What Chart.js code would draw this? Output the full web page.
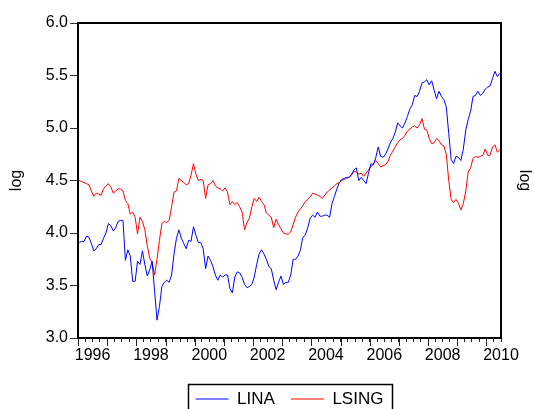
<!DOCTYPE html>
<html>
<head>
<meta charset="utf-8">
<script src="https://cdn.jsdelivr.net/npm/chart.js@4/dist/chart.umd.min.js"></script>
<style>
  html, body { margin: 0; padding: 0; background: #ffffff; }
  canvas { display: block; }
</style>
</head>
<body>
<canvas id="chart" width="534" height="409"></canvas>
<script>
// Monthly observations, 1996M01 - 2010M06
const startYear = 1996;
const monthCount = 174;
const months = [];
for (let k = 0; k < monthCount; k++) {
  months.push(`${startYear + Math.floor(k / 12)}M${String(k % 12 + 1).padStart(2, '0')}`);
}

// LINA (log level)
const lina = [
  3.91, 3.92, 3.92, 3.97, 3.96, 3.90, 3.83, 3.85, 3.89, 3.89, 3.95, 4.00,
  4.09, 4.07, 4.02, 4.05, 4.11, 4.12, 4.12, 3.74, 3.84, 3.78, 3.54, 3.54,
  3.73, 3.70, 3.83, 3.70, 3.59, 3.65, 3.73, 3.45, 3.17, 3.30, 3.49, 3.53,
  3.55, 3.53, 3.60, 3.80, 3.95, 4.03, 3.95, 3.90, 3.85, 3.93, 3.92, 4.06,
  3.98, 3.91, 3.91, 3.85, 3.66, 3.78, 3.74, 3.68, 3.60, 3.55, 3.60, 3.58,
  3.60, 3.60, 3.47, 3.43, 3.58, 3.63, 3.62, 3.58, 3.51, 3.48, 3.49, 3.51,
  3.58, 3.70, 3.80, 3.84, 3.80, 3.75, 3.68, 3.66, 3.55, 3.46, 3.53, 3.59,
  3.51, 3.53, 3.53, 3.60, 3.75, 3.75, 3.78, 3.84, 3.96, 3.98, 4.05, 4.14,
  4.17, 4.15, 4.20, 4.16, 4.16, 4.17, 4.17, 4.15, 4.28, 4.35, 4.42, 4.48,
  4.51, 4.52, 4.53, 4.53, 4.55, 4.60, 4.62, 4.50, 4.53, 4.50, 4.47, 4.57,
  4.66, 4.65, 4.72, 4.82, 4.73, 4.72, 4.75, 4.80, 4.86, 4.90, 4.96, 5.05,
  5.02, 5.00, 5.05, 5.11, 5.18, 5.22, 5.31, 5.30, 5.35, 5.43, 5.44, 5.46,
  5.41, 5.45, 5.36, 5.28, 5.35, 5.30, 5.27, 5.20, 4.95, 4.70, 4.66, 4.73,
  4.72, 4.69, 4.80, 4.98, 5.08, 5.16, 5.30, 5.31, 5.35, 5.31, 5.33, 5.37,
  5.39, 5.40, 5.47, 5.54, 5.49, 5.52
];

// LSING (log level)
const lsing = [
  4.50, 4.49, 4.48, 4.47, 4.46, 4.40, 4.35, 4.38, 4.37, 4.36, 4.42, 4.45,
  4.47, 4.44, 4.38, 4.40, 4.42, 4.42, 4.40, 4.31, 4.28, 4.18, 4.20, 4.15,
  3.99, 4.15, 4.11, 4.03, 3.88, 3.76, 3.72, 3.60, 3.75, 3.93, 4.09, 4.11,
  4.10, 4.12, 4.25, 4.39, 4.40, 4.52, 4.50, 4.48, 4.46, 4.47, 4.55, 4.66,
  4.56, 4.50, 4.51, 4.50, 4.33, 4.46, 4.47, 4.50, 4.45, 4.43, 4.42, 4.40,
  4.43, 4.39, 4.27, 4.30, 4.27, 4.29, 4.25, 4.20, 4.03, 4.10, 4.14, 4.25,
  4.33, 4.30, 4.34, 4.30, 4.27, 4.19, 4.17, 4.15, 4.05, 4.13, 4.08, 4.04,
  4.00, 3.99, 3.99, 4.01, 4.08, 4.15, 4.20, 4.23, 4.26, 4.30, 4.32, 4.34,
  4.38, 4.37, 4.36, 4.35, 4.33, 4.36, 4.39, 4.41, 4.43, 4.45, 4.47, 4.48,
  4.50, 4.51, 4.52, 4.53, 4.56, 4.59, 4.58, 4.56, 4.57, 4.54, 4.57, 4.60,
  4.63, 4.66, 4.69, 4.66, 4.63, 4.64, 4.65, 4.68, 4.74, 4.78, 4.82, 4.86,
  4.89, 4.90, 4.93, 4.97, 4.99, 5.01, 5.02, 5.00, 5.03, 5.09, 4.99, 4.98,
  4.90, 4.85, 4.86, 4.90, 4.88, 4.84, 4.83, 4.75, 4.50, 4.32, 4.29, 4.32,
  4.28, 4.22, 4.28, 4.40, 4.58, 4.62, 4.71, 4.73, 4.72, 4.73, 4.74, 4.80,
  4.74, 4.74, 4.82, 4.84, 4.77, 4.79
];

// Axis labels
const yearLabels = ['1996', '1998', '2000', '2002', '2004', '2006', '2008', '2010'];
const yTickValues = [3.0, 3.5, 4.0, 4.5, 5.0, 5.5, 6.0];

// Month k sits at x = k; quarter boundaries fall on half-month positions
const quarterTicks = [];
for (let q = 0; q <= monthCount / 3; q++) quarterTicks.push(q * 3 - 0.5);
const yearLabelAt = new Map(yearLabels.map(y => [(Number(y) - startYear) * 12 + 5.5, y]));

const FONT = "'Liberation Sans', Arial, sans-serif";
Chart.defaults.font.family = FONT;
Chart.defaults.color = '#000000';

// Longer marks at year boundaries, plus a frame around the legend
const axisExtras = {
  id: 'axisExtras',
  afterLayout(chart) {
    const lg = chart.legend, ca = chart.chartArea;
    if (!lg) return;
    lg.left = ca.left;
    lg.right = ca.right;
    lg.width = ca.right - ca.left;
    const pad = lg.options.labels.padding;
    const fs = lg.options.labels.font.size;
    const top = ca.bottom + 61 - pad - fs / 2;
    const dy = top - lg.top;
    lg.top += dy;
    lg.bottom += dy;
  },
  afterDraw(chart) {
    const ctx = chart.ctx, ca = chart.chartArea, xs = chart.scales.x;
    ctx.save();
    ctx.strokeStyle = '#222222';
    ctx.lineWidth = 1;
    ctx.beginPath();
    xs.ticks.forEach(t => {
      if ((t.value + 0.5) % 12 === 0) {
        const px = Math.round(xs.getPixelForValue(t.value)) + 0.5;
        ctx.moveTo(px, ca.bottom);
        ctx.lineTo(px, ca.bottom + 8);
      }
    });
    ctx.stroke();

    const hb = chart.legend && chart.legend.legendHitBoxes;
    if (hb && hb.length) {
      const first = hb[0], last = hb[hb.length - 1];
      const cy = first.top + first.height / 2;
      const l = Math.round(first.left - 8) + 0.5;
      const r = Math.round(last.left + last.width + 9) + 0.5;
      const t = Math.round(cy - 15) + 0.5;
      ctx.strokeStyle = '#000000';
      ctx.lineWidth = 1.5;
      ctx.strokeRect(l, t, r - l, 60);
    }
    ctx.restore();
  }
};

new Chart(document.getElementById('chart'), {
  type: 'line',
  data: {
    labels: months,
    datasets: [
      {
        label: 'LINA',
        data: lina.map((v, k) => ({ x: k, y: v })),
        borderColor: '#0000ff',
        backgroundColor: '#0000ff',
        borderWidth: 1,
        pointRadius: 0,
        tension: 0,
        fill: false
      },
      {
        label: 'LSING',
        data: lsing.map((v, k) => ({ x: k, y: v })),
        borderColor: '#ff0000',
        backgroundColor: '#ff0000',
        borderWidth: 1,
        pointRadius: 0,
        tension: 0,
        fill: false
      }
    ]
  },
  options: {
    responsive: false,
    animation: false,
    devicePixelRatio: 1,
    layout: { padding: { top: 23, right: 0, bottom: 0, left: 0 } },
    plugins: {
      tooltip: { enabled: false },
      legend: {
        position: 'bottom',
        labels: {
          usePointStyle: true,
          pointStyle: 'line',
          pointStyleWidth: 33,
          padding: 16,
          color: '#000000',
          font: { family: FONT, size: 17 }
        }
      }
    },
    scales: {
      x: {
        type: 'linear',
        position: 'bottom',
        min: -0.5,
        max: monthCount - 0.5,
        afterBuildTicks: s => { s.ticks = quarterTicks.map(v => ({ value: v })); },
        afterFit: s => { s.height = 28; },
        ticks: {
          autoSkip: false,
          maxRotation: 0,
          padding: 4,
          color: '#000000',
          font: { family: FONT, size: 16 },
          callback: v => yearLabelAt.get(v) || ''
        },
        grid: { drawOnChartArea: false, drawTicks: true, tickLength: 4, tickColor: '#222222', color: '#222222' },
        border: { display: true, color: '#000000', width: 2 }
      },
      xTop: {
        type: 'linear',
        position: 'top',
        min: 0,
        max: 1,
        afterFit: s => { s.height = 0; },
        ticks: { display: false },
        grid: { display: false, drawTicks: false },
        border: { display: true, color: '#000000', width: 2 }
      },
      y: {
        type: 'linear',
        position: 'left',
        min: 3,
        max: 6,
        afterBuildTicks: s => { s.ticks = yTickValues.map(v => ({ value: v })); },
        afterFit: s => { s.width = 78; },
        ticks: {
          padding: 2,
          color: '#000000',
          font: { family: FONT, size: 16 },
          callback: v => Number(v).toFixed(1)
        },
        grid: { drawOnChartArea: false, drawTicks: true, tickLength: 8, tickColor: '#333333', color: '#333333' },
        border: { display: true, color: '#000000', width: 2 },
        title: {
          display: true,
          text: 'log',
          color: '#000000',
          font: { family: FONT, size: 16 },
          padding: { top: 7, bottom: 0 }
        }
      },
      y2: {
        type: 'linear',
        position: 'right',
        min: 3,
        max: 6,
        afterFit: s => { s.width = 33; },
        ticks: { display: false },
        grid: { display: false, drawTicks: false },
        border: { display: true, color: '#000000', width: 2 },
        title: {
          display: true,
          text: 'log',
          color: '#000000',
          font: { family: FONT, size: 16 },
          padding: { top: 0, bottom: 0 }
        }
      }
    }
  },
  plugins: [axisExtras]
});
</script>
</body>
</html>
